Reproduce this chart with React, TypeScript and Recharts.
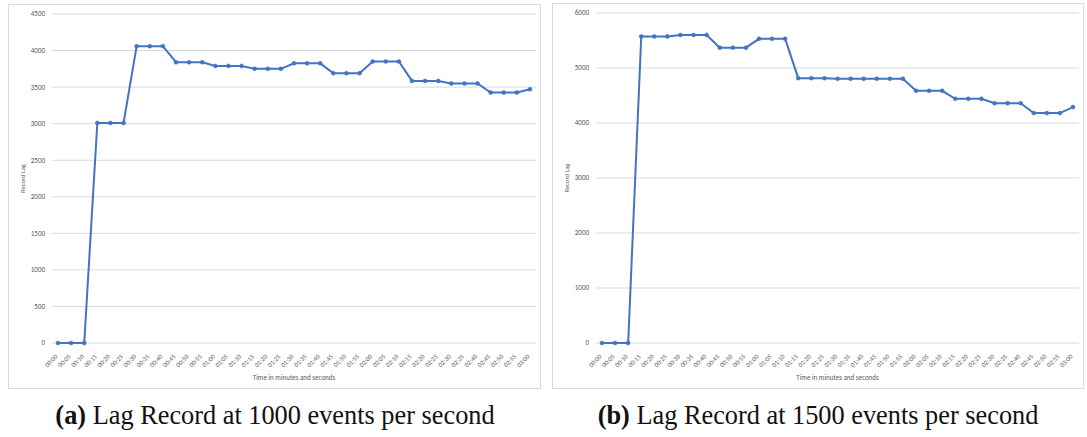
import React from 'react';
import { LineChart, Line, XAxis, YAxis, CartesianGrid } from 'recharts';

// tick labels for the time axis (00:00 .. 03:00 every 5 s)
const times = [
  '00:00', '00:05', '00:10', '00:15', '00:20', '00:25', '00:30', '00:35', '00:40', '00:45',
  '00:50', '00:55', '01:00', '01:05', '01:10', '01:15', '01:20', '01:25', '01:30', '01:35',
  '01:40', '01:45', '01:50', '01:55', '02:00', '02:05', '02:10', '02:15', '02:20', '02:25',
  '02:30', '02:35', '02:40', '02:45', '02:50', '02:55', '03:00'
];

// (a) 1000 events per second
const lag1000 = [
  0, 0, 0, 3010, 3010, 3010, 4060, 4060, 4060, 3840,
  3840, 3840, 3790, 3790, 3790, 3750, 3750, 3750, 3825, 3825,
  3825, 3690, 3690, 3690, 3850, 3850, 3850, 3585, 3585, 3585,
  3550, 3550, 3550, 3425, 3425, 3425, 3470
];

// (b) 1500 events per second
const lag1500 = [
  0, 0, 0, 5575, 5575, 5575, 5600, 5600, 5600, 5370,
  5370, 5370, 5530, 5530, 5530, 4815, 4815, 4815, 4805, 4805,
  4805, 4805, 4805, 4805, 4585, 4585, 4585, 4440, 4440, 4440,
  4360, 4360, 4360, 4180, 4180, 4180, 4290
];

const ticksA = [0, 500, 1000, 1500, 2000, 2500, 3000, 3500, 4000, 4500];
const ticksB = [0, 1000, 2000, 3000, 4000, 5000, 6000];

const captionA = 'Lag Record at 1000 events per second';
const captionB = 'Lag Record at 1500 events per second';

const LINE = '#4472C4';
const GRID = '#d9d9d9';
const TXT = '#595959';
const FONT = 'Calibri, Carlito, "Open Sans", sans-serif';

const TimeTick = (props: any) => {
  const { x, y, payload } = props;
  return (
    <text
      x={x}
      y={y + 6}
      transform={`rotate(-45, ${x}, ${y + 6})`}
      textAnchor="end"
      fontSize={6.5}
      fill={TXT}
      fontFamily={FONT}
    >
      {payload.value}
    </text>
  );
};

interface LagChartProps {
  values: number[];
  ticks: number[];
  width: number;
  height: number;
  top: number;
}

const LagChart: React.FC<LagChartProps> = ({ values, ticks, width, height, top }) => {
  const data = times.map((t, i) => ({ time: t, lag: values[i] }));
  return (
    <LineChart
      width={width}
      height={height}
      data={data}
      margin={{ top, right: 4, left: 8, bottom: 0 }}
    >
      <CartesianGrid vertical={false} stroke={GRID} strokeWidth={1} />
      <XAxis
        dataKey="time"
        interval={0}
        axisLine={false}
        tickLine={false}
        height={45}
        padding={{ left: 6, right: 6 }}
        tick={<TimeTick />}
        label={{
          value: 'Time in minutes and seconds',
          position: 'insideBottom',
          offset: 8,
          fontSize: 7,
          fill: TXT,
          fontFamily: FONT
        }}
      />
      <YAxis
        width={35}
        domain={[0, ticks[ticks.length - 1]]}
        ticks={ticks}
        interval={0}
        axisLine={false}
        tickLine={false}
        tickSize={5}
        tick={{ fontSize: 7, fill: TXT, fontFamily: FONT }}
        label={{
          value: 'Record Lag',
          angle: -90,
          position: 'insideLeft',
          offset: 6,
          fontSize: 6.5,
          fill: TXT,
          fontFamily: FONT,
          style: { textAnchor: 'middle' }
        }}
      />
      <Line
        type="linear"
        dataKey="lag"
        stroke={LINE}
        strokeWidth={2}
        dot={{ r: 2, fill: LINE, stroke: LINE, strokeWidth: 0.5 }}
        isAnimationActive={false}
      />
    </LineChart>
  );
};

const boxStyle = (left: number, top: number, width: number, height: number): React.CSSProperties => ({
  position: 'absolute',
  left,
  top,
  width,
  height,
  boxSizing: 'border-box',
  border: `1px solid ${GRID}`,
  background: '#fff'
});

const captionStyle = (center: number): React.CSSProperties => ({
  position: 'absolute',
  left: center - 250,
  width: 500,
  top: 399,
  textAlign: 'center',
  fontFamily: '"Liberation Serif", serif',
  fontSize: 28,
  lineHeight: '32px',
  color: '#111',
  whiteSpace: 'nowrap',
  transform: 'scaleX(0.94)'
});

export default function App() {
  return (
    <div style={{ position: 'absolute', left: 0, top: 0, width: 1087, height: 437, background: '#fff' }}>
      <div style={boxStyle(8, 4, 533, 385)}>
        <LagChart values={lag1000} ticks={ticksA} width={531} height={383} top={9} />
      </div>
      <div style={boxStyle(552, 3, 532, 386)}>
        <LagChart values={lag1500} ticks={ticksB} width={530} height={384} top={9} />
      </div>
      <div style={captionStyle(275)}>
        <b>(a)</b> {captionA}
      </div>
      <div style={captionStyle(818)}>
        <b>(b)</b> {captionB}
      </div>
    </div>
  );
}
